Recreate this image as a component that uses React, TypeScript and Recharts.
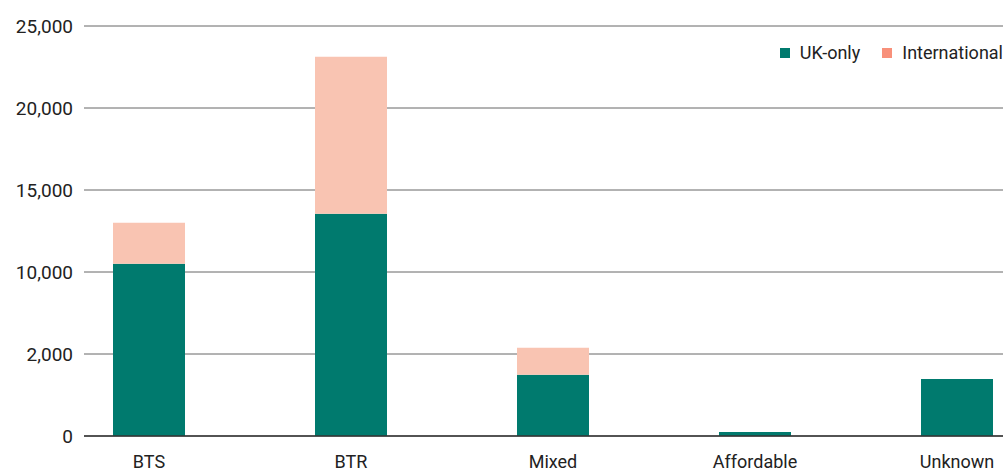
import React from 'react';
import { BarChart, Bar, XAxis, YAxis, CartesianGrid } from 'recharts';

const categories = ['BTS', 'BTR', 'Mixed', 'Affordable', 'Unknown'];
const ukOnly = [10500, 13550, 3740, 245, 3480];
const international = [2500, 9580, 1640, 0, 0];
const yTicks = [0, 5000, 10000, 15000, 20000, 25000];
const yTickLabels = ['0', '2,000', '10,000', '15,000', '20,000', '25,000'];

const data = categories.map((name, i) => ({
  name,
  uk: ukOnly[i],
  intl: international[i],
}));

const TEAL = '#007A6E';
const PEACH = '#F9C4B2';
const PEACH_KEY = '#F8907A';
const FONT = 'Roboto, "Noto Sans", sans-serif';

const App: React.FC = () => {
  return (
    <div style={{ position: 'absolute', left: 0, top: 0, width: 1003, height: 473, overflow: 'hidden', background: '#fff' }}>
      <BarChart width={1003} height={473} data={data} margin={{ top: 26, right: 0, left: 0, bottom: 0 }}>
        <CartesianGrid vertical={false} stroke="#666" strokeWidth={1} />
        <XAxis
          dataKey="name"
          height={37}
          padding={{ left: -36, right: -55 }}
          axisLine={{ stroke: '#333', strokeWidth: 1.5 }}
          tickLine={false}
          tickSize={0}
          tickMargin={19}
          tick={{ fontFamily: FONT, fontSize: 18, fill: '#222' }}
        />
        <YAxis
          width={84}
          domain={[0, 25000]}
          ticks={yTicks}
          tickFormatter={(v: number) => yTickLabels[yTicks.indexOf(v)] ?? String(v)}
          axisLine={false}
          tickLine={false}
          tickSize={0}
          tickMargin={11}
          tick={{ fontFamily: FONT, fontSize: 19, fill: '#222' }}
        />
        <Bar dataKey="uk" stackId="a" fill={TEAL} barSize={72} isAnimationActive={false} />
        <Bar dataKey="intl" stackId="a" fill={PEACH} barSize={72} isAnimationActive={false} />
      </BarChart>
      <div
        style={{
          position: 'absolute',
          top: 42,
          right: 0,
          display: 'flex',
          alignItems: 'center',
          fontFamily: FONT,
          fontSize: 18,
          color: '#222',
          whiteSpace: 'nowrap',
        }}
      >
        <span style={{ width: 10, height: 10, background: TEAL, display: 'inline-block', marginRight: 10 }} />
        <span style={{ marginRight: 22 }}>UK-only</span>
        <span style={{ width: 10, height: 10, background: PEACH_KEY, display: 'inline-block', marginRight: 10 }} />
        <span>International</span>
      </div>
    </div>
  );
};

export default App;
